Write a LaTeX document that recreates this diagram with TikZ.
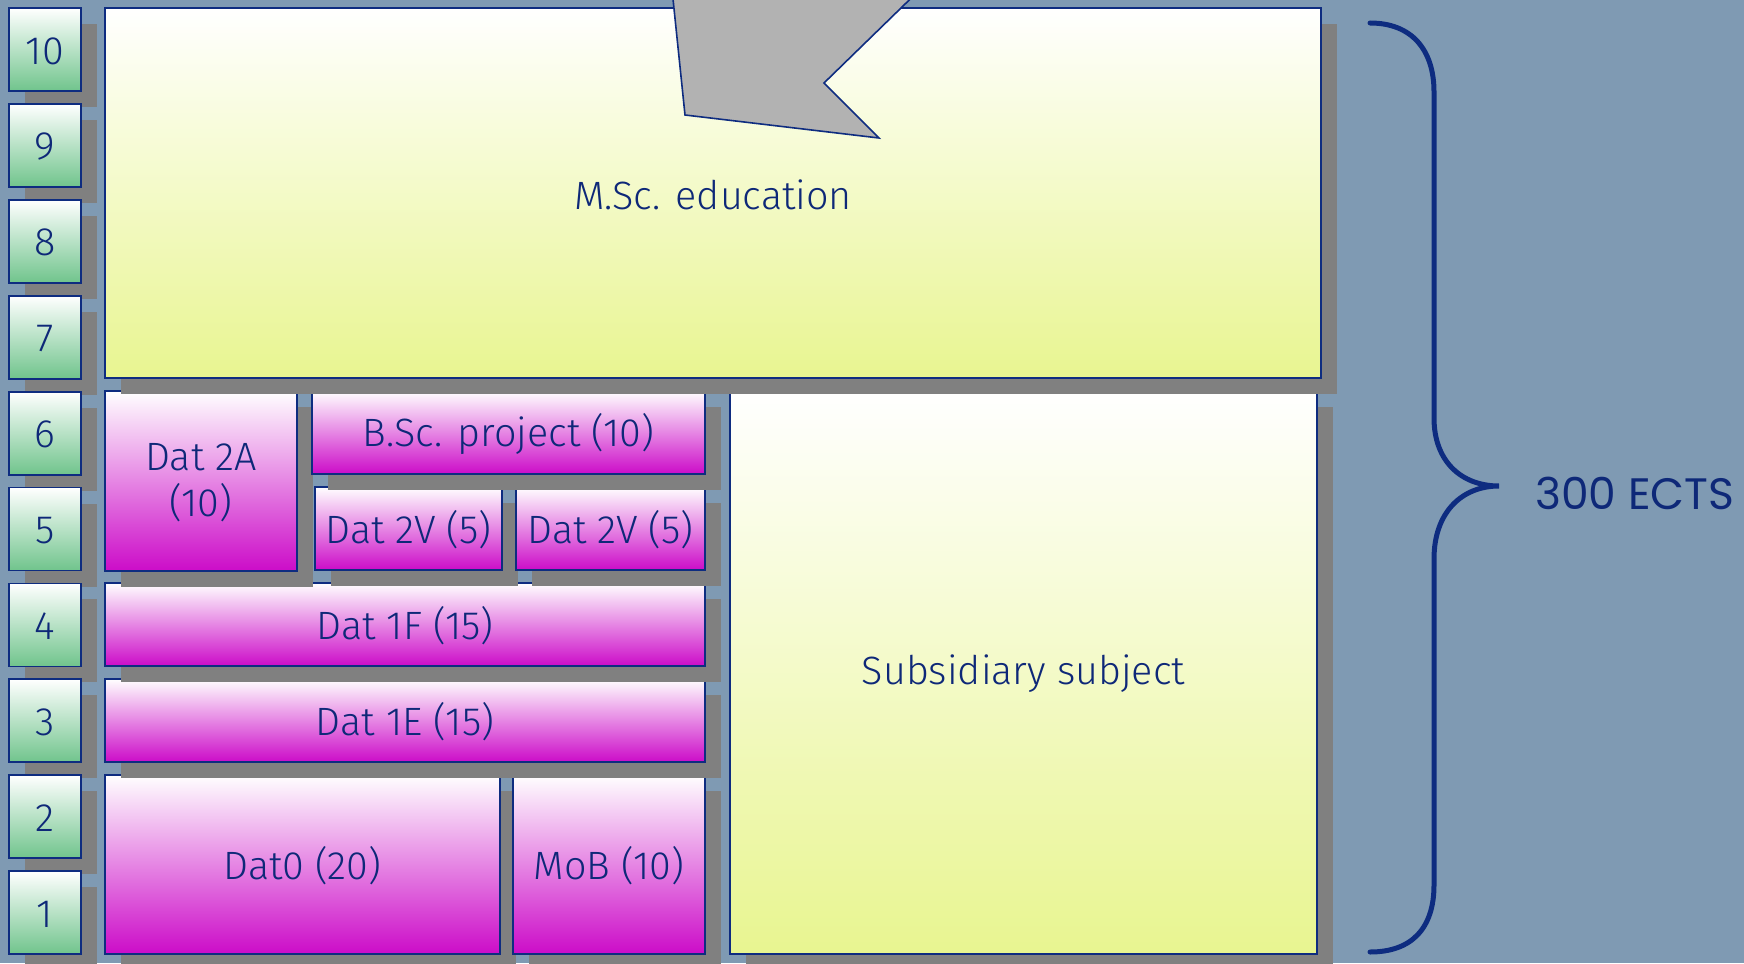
\documentclass[tikz,border=0pt]{standalone}
\usepackage{fontspec}
\setmainfont{Fira Sans Light}
\newfontfamily\ectsfont{Poppins}
\definecolor{bg}{RGB}{127,154,179}
\definecolor{shadowgray}{RGB}{128,128,128}
\definecolor{bordblue}{RGB}{14,44,128}
\definecolor{txtblue}{RGB}{14,40,120}
\definecolor{mag}{RGB}{204,12,200}
\definecolor{ylw}{RGB}{232,245,144}
\definecolor{grn}{RGB}{112,196,140}
\definecolor{arrowgray}{RGB}{178,178,178}
\newcommand\boxfont{\fontsize{39.5}{46}\selectfont}
\tikzset{
  box/.style={draw=bordblue, line width=1.8pt, inner sep=0pt, outer sep=0pt,
    text=txtblue, font=\boxfont, align=center},
  magbox/.style={box, top color=white, bottom color=mag},
  ylwbox/.style={box, top color=white, bottom color=ylw},
  grnbox/.style={box, top color=white, bottom color=grn},
  shadowfill/.style={fill=shadowgray},
}
% name, style, x1, y1, x2, y2, text
\newcommand\placebox[7]{%
  \fill[shadowfill] ({#3+16},{#4+16}) rectangle ({#5+16},{#6+16});
  \node[#2, minimum width={#5pt-#3pt}, minimum height={#6pt-#4pt}] (#1)
    at ({(#3+#5)/2},{(#4+#6)/2}) {};
  \node[text=txtblue, font=\boxfont, align=center, inner sep=0pt] (#1-t)
    at ([yshift=-1.5pt]#1.center) {#7};
}
\begin{document}
\begin{tikzpicture}[x=1pt, y=-1pt]
  \useasboundingbox (0,0) rectangle (1744,963);
  \clip (0,0) rectangle (1744,963);
  \fill[bg] (0,0) rectangle (1744,963);
  % semester numbers
  \foreach \n in {10,9,...,1}{
    \pgfmathsetmacro\yt{8+95.9*(10-\n)}
    \pgfmathsetmacro\yb{\yt+83}
    \placebox{num\n}{grnbox}{9}{\yt}{81}{\yb}{\n}
  }
  % courses (lower rows first)
  \placebox{dat0}{magbox}{105}{775}{500}{954}{Dat0 (20)}
  \placebox{mob}{magbox}{513}{775}{705}{954}{MoB (10)}
  \placebox{dat1e}{magbox}{105}{679}{705}{762}{Dat 1E (15)}
  \placebox{dat1f}{magbox}{105}{583}{705}{666}{Dat 1F (15)}
  \placebox{dat2a}{magbox}{105}{391}{297}{571}{Dat 2A\\(10)}
  \placebox{dat2va}{magbox}{315}{487}{502}{570}{Dat 2V (5)}
  \placebox{dat2vb}{magbox}{516}{487}{705}{570}{Dat 2V (5)}
  \placebox{bsc}{magbox}{312}{391}{705}{474}{B.Sc. project (10)}
  \placebox{sub}{ylwbox}{730}{391}{1317}{954}{Subsidiary subject}
  \placebox{msc}{ylwbox}{105}{8}{1321}{378}{M.Sc. education}
  % grey arrow shape
  \filldraw[fill=arrowgray, draw=bordblue, line width=1.6pt, line join=miter]
    (670,-30) -- (685,115) -- (879,138) -- (824,83) -- (940,-30) -- cycle;
  % brace
  \draw[bordblue, line width=5pt, line cap=round]
    (1370,23) .. controls (1412,23) and (1434,50) .. (1434,92)
    -- (1434,418) .. controls (1434,462) and (1462,486) .. (1499,486)
    .. controls (1462,486) and (1434,512) .. (1434,559)
    -- (1434,885) .. controls (1434,928) and (1412,952) .. (1370,952);
  \node[anchor=west, text=txtblue, font=\ectsfont\fontsize{44}{50}\selectfont, inner sep=0pt]
    (ects) at (1535,493) {300 ECTS};
\end{tikzpicture}
\end{document}
